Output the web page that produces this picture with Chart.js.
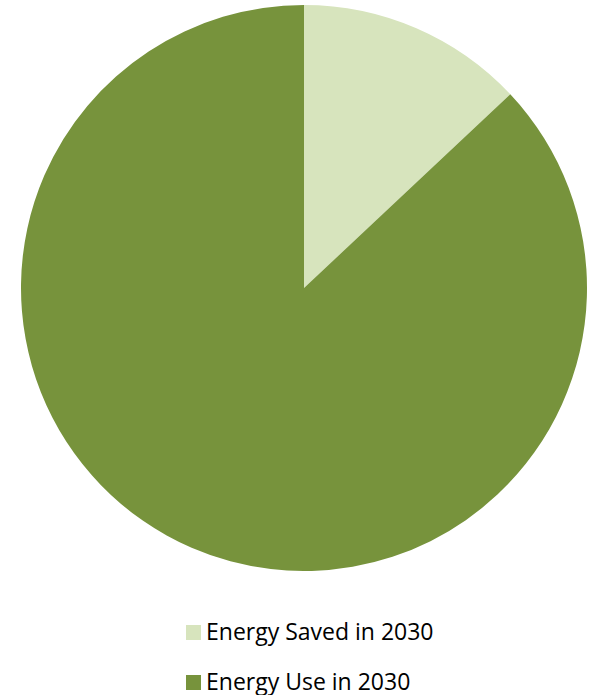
<!DOCTYPE html>
<html>
<head>
<meta charset="utf-8">
<script src="https://cdn.jsdelivr.net/npm/chart.js@4"></script>
<style>
  body { margin: 0; background: #fff; width: 593px; height: 695px; position: relative; overflow: hidden; }
  #wrap { position: absolute; left: 21px; top: 5px; width: 566px; height: 566px; }
  #legend { position: absolute; left: 186px; top: 617px; font-family: "Open Sans", sans-serif; font-size: 23px; color: #000; }
  .item { height: 50px; position: relative; white-space: nowrap; }
  .box { position: absolute; left: 0; top: 8px; width: 15px; height: 15px; }
  .txt { position: absolute; left: 20px; top: 0; line-height: 28px; }
</style>
</head>
<body>
<div id="wrap"><canvas id="chart" width="566" height="566"></canvas></div>
<div id="legend"></div>
<script>
const labels = ['Energy Saved in 2030', 'Energy Use in 2030'];
const values = [13, 87];
const colors = ['#D7E4BD', '#77933C'];

document.addEventListener('DOMContentLoaded', () => {
    const ctx = document.getElementById('chart').getContext('2d');
    const chart = new Chart(ctx, {
        type: 'pie',
        data: {
            labels: labels,
            datasets: [{ data: values, backgroundColor: colors, borderWidth: 0 }]
        },
        options: {
            responsive: false,
            animation: false,
            layout: { padding: 0 },
            plugins: {
                legend: { display: false },
                tooltip: { enabled: false }
            }
        }
    });

    // legend as a left-aligned column, like the original
    const legend = document.getElementById('legend');
    chart.data.labels.forEach((label, i) => {
        const item = document.createElement('div');
        item.className = 'item';
        item.innerHTML = '<span class="box" style="background:' + colors[i] + '"></span><span class="txt">' + label + '</span>';
        legend.appendChild(item);
    });
});
</script>
</body>
</html>
